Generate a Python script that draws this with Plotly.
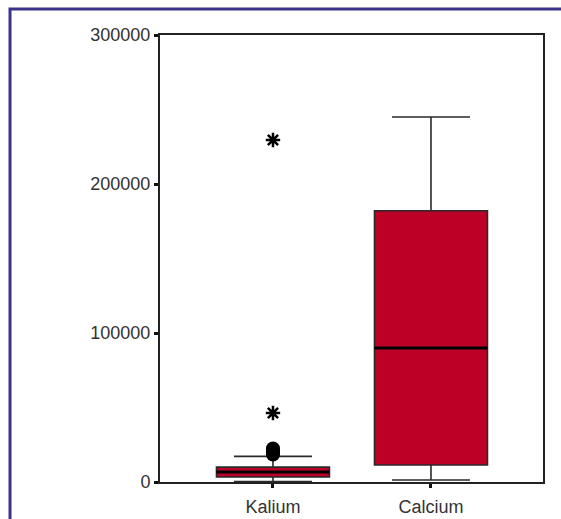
import plotly.graph_objects as go

categories = ["Kalium", "Calcium"]
lower_fence = [300, 1300]
q1 = [3400, 11400]
median = [6700, 89900]
q3 = [10000, 182000]
upper_fence = [17200, 245000]
# outliers for Kalium
kalium_circle_outliers = [18500, 19500, 20500, 21500, 22500]
kalium_star_outliers = [46300, 229500]
y_ticks = [0, 100000, 200000, 300000]

box_width = 0.715
fill = "#BD0026"
edge = "#2a2a2a"

fig = go.Figure()
xs = list(range(len(categories)))
for i, name in enumerate(categories):
    fig.add_trace(go.Box(
        x=[xs[i]], q1=[q1[i]], median=[median[i]], q3=[q3[i]],
        lowerfence=[lower_fence[i]], upperfence=[upper_fence[i]],
        width=box_width, whiskerwidth=0.69,
        fillcolor=fill, line=dict(color=edge, width=1.6),
        boxpoints=False, showlegend=False, hoverinfo="skip",
    ))
    # thicker median line
    fig.add_trace(go.Scatter(
        x=[xs[i] - box_width / 2, xs[i] + box_width / 2], y=[median[i], median[i]],
        mode="lines", line=dict(color="black", width=3), showlegend=False, hoverinfo="skip",
    ))

fig.add_trace(go.Scatter(
    x=[xs[0]] * len(kalium_circle_outliers), y=kalium_circle_outliers, mode="markers",
    marker=dict(symbol="circle", size=14, color="black"), showlegend=False,
))
fig.add_trace(go.Scatter(
    x=[xs[0]] * len(kalium_star_outliers), y=kalium_star_outliers, mode="markers",
    marker=dict(symbol="asterisk-open", size=12, color="black",
                line=dict(color="black", width=2.5)),
    showlegend=False,
))

fig.update_layout(
    width=561, height=519,
    margin=dict(l=160, r=18, t=35, b=37),
    paper_bgcolor="white", plot_bgcolor="white",
    font=dict(family="Liberation Sans, Arial, sans-serif", size=16, color="#333333"),
    xaxis=dict(
        range=[-0.715, 1.709], tickvals=xs, ticktext=categories,
        showgrid=False, zeroline=False, showline=True, linecolor="#222", linewidth=2,
        mirror=True, ticks="outside", ticklen=4, tickwidth=3, tickcolor="#111",
        tickfont=dict(size=18), ticklabelstandoff=3, automargin=False,
    ),
    yaxis=dict(
        range=[0, 300000], tickvals=y_ticks, tickformat="d",
        showgrid=False, zeroline=False, showline=True, linecolor="#222", linewidth=2,
        mirror=True, ticks="outside", ticklen=4, tickwidth=3, tickcolor="#111",
        tickfont=dict(size=18), automargin=False,
    ),
    shapes=[dict(
        type="path", xref="paper", yref="paper",
        path="M -0.3916,-0.2 L -0.3916,1.0582 L 1.2,1.0582",
        line=dict(color="#3B3289", width=3),
    )],
)

fig.write_html("out.html")
